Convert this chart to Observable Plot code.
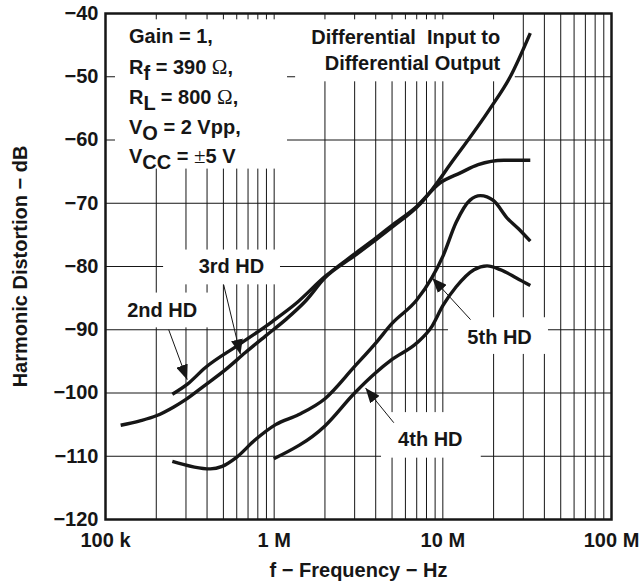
<!DOCTYPE html>
<html>
<head>
<meta charset="utf-8">
<script src="https://cdn.jsdelivr.net/npm/d3@7"></script>
<script src="https://cdn.jsdelivr.net/npm/@observablehq/plot@0.6"></script>
<style>
  html, body { margin: 0; padding: 0; background: #fff; }
  svg text { white-space: pre; }
</style>
</head>
<body>
<div id="chart"></div>
<script>
// ---- Data ----
const hd2Freq = [2.49e5, 3.06e5, 3.9e5, 6.15e5, 9.75e5, 1.34e6, 2e6, 3e6, 4e6, 5e6, 7e6, 9.6e6, 1.27e7, 1.62e7, 2.3e7, 3.3e7];
const hd2Db   = [-100.2, -98.6, -96.0, -92.4, -88.7, -85.9, -81.6, -78.0, -75.5, -73.5, -70.5, -66.8, -65.2, -63.9, -63.2, -63.2];

const hd3Freq = [1.23e5, 1.6e5, 2e5, 2.54e5, 3e5, 3.92e5, 5.15e5, 6.75e5, 8.87e5, 1.17e6, 1.53e6, 2e6, 3e6, 4e6, 5e6, 7.4e6, 1.16e7, 1.91e7, 2.51e7, 3.3e7];
const hd3Db   = [-105.1, -104.4, -103.6, -102.2, -101.0, -98.7, -96.3, -93.6, -91.0, -88.4, -85.5, -81.8, -78.3, -75.8, -73.8, -70.0, -63.1, -55.0, -50.0, -43.1];

const hd4Freq = [9.95e5, 2e6, 3e6, 4e6, 5e6, 7e6, 8.6e6, 1e7, 1.2e7, 1.53e7, 1.83e7, 2.19e7, 2.73e7, 3.3e7];
const hd4Db   = [-110.4, -105.2, -100.0, -96.8, -94.7, -92.1, -89.5, -86.2, -83.2, -80.5, -79.9, -80.5, -81.8, -83.0];

const hd5Freq = [2.49e5, 4.18e5, 4.92e5, 5.9e5, 7.72e5, 1.02e6, 1.4e6, 2e6, 3e6, 4e6, 5e6, 7e6, 8.6e6, 1e7, 1.2e7, 1.45e7, 1.67e7, 2e7, 2.4e7, 2.8e7, 3.3e7];
const hd5Db   = [-110.8, -112.0, -111.6, -110.3, -107.4, -105.0, -103.4, -100.9, -95.8, -92.1, -89.0, -85.3, -81.8, -78.4, -73.0, -69.5, -68.8, -69.6, -72.3, -74.0, -76.0];

const seriesNames = ["2nd HD", "3rd HD", "4th HD", "5th HD"];
const seriesFreq = [hd2Freq, hd3Freq, hd4Freq, hd5Freq];
const seriesDb = [hd2Db, hd3Db, hd4Db, hd5Db];

// Axis ticks
const xTicks = [1e5, 1e6, 1e7, 1e8];
const xTickLabels = ["100 k", "1 M", "10 M", "100 M"];
const yTicks = [-120, -110, -100, -90, -80, -70, -60, -50, -40];

// Series labels with arrows (label position, arrow tail, arrow tip)
const hdLabels = ["2nd HD", "3rd HD", "4th HD", "5th HD"];
const hdLabelX = [2.17e5, 5.58e5, 8.43e6, 2.17e7];
const hdLabelY = [-87.0, -80.0, -107.4, -91.2];
const arrowTailX = [2.37e5, 5.02e5, 5.12e6, 1.46e7];
const arrowTailY = [-90.0, -82.9, -104.7, -88.4];
const arrowTipX = [3.05e5, 6.31e5, 3.48e6, 8.65e6];
const arrowTipY = [-97.9, -93.9, -99.2, -81.8];

// White label boxes [x1, x2, y1, y2]
const boxX1 = [1.146e5, 1.34e6, 2.21e5, 1.146e5, 1.08e7, 4.33e6];
const boxX2 = [1.2e6, 2.69e7, 1.09e6, 4.19e5, 4.23e7, 1.69e7];
const boxY1 = [-41.0, -41.0, -77.4, -84.2, -88.1, -103.1];
const boxY2 = [-64.6, -50.8, -82.9, -89.7, -93.9, -110.3];

// Conditions text (segments: [text, kind])
const paramSegments = [
  [["Gain = 1,"]],
  [["R"], ["f", "sub"], [" = 390 "], ["Ω", "sym"], [","]],
  [["R"], ["L", "sub"], [" = 800 "], ["Ω", "sym"], [","]],
  [["V"], ["O", "sub"], [" = 2 Vpp,"]],
  [["V"], ["CC", "sub"], [" = "], ["±", "sym"], ["5 V"]]
];
const paramX = 1.378e5;
const paramY = [-43.7, -48.5, -53.3, -58.1, -62.7];

const titleLines = ["Differential  Input to", "Differential Output"];
const titleX = 2.19e7;
const titleY = [-43.85, -47.9];

const xTitle = "f − Frequency − Hz";
const yTitle = "Harmonic Distortion − dB";

// ---- Build tables ----
const curveData = seriesNames.flatMap((name, s) =>
  seriesFreq[s].map((f, i) => ({series: name, f, db: seriesDb[s][i]})));
const gridX = [];
for (const dec of [1e5, 1e6, 1e7]) for (let k = 1; k <= 9; k++) { const v = dec * k; if (v > 1e5) gridX.push(v); }
const gridY = yTicks.filter(v => v > -120 && v < -40);
const labelData = hdLabels.map((t, i) => ({t, x: hdLabelX[i], y: hdLabelY[i]}));
const arrowData = hdLabels.map((t, i) => ({x1: arrowTailX[i], y1: arrowTailY[i], x2: arrowTipX[i], y2: arrowTipY[i]}));
const boxData = boxX1.map((x1, i) => ({x1, x2: boxX2[i], y1: boxY1[i], y2: boxY2[i]}));
const paramData = paramSegments.map((segs, i) => ({segs, x: paramX, y: paramY[i], t: segs.map(s => s[0]).join("")}));
const titleData = titleLines.map((t, i) => ({t, x: titleX, y: titleY[i]}));

const ink = "#161616";
const minus = v => (v < 0 ? "−" + Math.abs(v) : String(v));

const chart = Plot.plot({
  width: 639,
  height: 585,
  marginLeft: 105,
  marginRight: 28,
  marginTop: 13,
  marginBottom: 66,
  style: {fontFamily: "'Liberation Sans', Arial, Helvetica, sans-serif", fontSize: "20px", fontWeight: "bold", color: ink, background: "#fff"},
  x: {type: "log", domain: [1e5, 1e8]},
  y: {domain: [-120, -40]},
  marks: [
    Plot.ruleX(gridX, {stroke: ink, strokeWidth: 1}),
    Plot.ruleY(gridY, {stroke: ink, strokeWidth: 1}),
    Plot.rect(boxData, {x1: "x1", x2: "x2", y1: "y1", y2: "y2", fill: "white"}),
    Plot.line(curveData, {x: "f", y: "db", z: "series", stroke: ink, strokeWidth: 3.4, curve: "monotone-x", strokeLinecap: "butt"}),
    Plot.link(arrowData, {x1: "x1", y1: "y1", x2: "x2", y2: "y2", stroke: ink, strokeWidth: 1, className: "hd-arrow"}),
    Plot.text(labelData, {x: "x", y: "y", text: "t", fill: ink}),
    Plot.text(paramData, {x: "x", y: "y", text: "t", textAnchor: "start", fill: ink, className: "params"}),
    Plot.text(titleData, {x: "x", y: "y", text: "t", textAnchor: "end", fill: ink}),
    Plot.frame({stroke: ink, strokeWidth: 2.5}),
    Plot.axisX(xTicks, {tickSize: 0, tickPadding: 13, tickFormat: (d) => xTickLabels[xTicks.indexOf(d)], label: null, fill: ink}),
    Plot.axisY(yTicks, {tickSize: 0, tickPadding: 7, tickFormat: minus, label: null, fill: ink}),
    Plot.text([xTitle], {frameAnchor: "bottom", textAnchor: "middle", lineAnchor: "middle", dy: 51, fill: ink}),
    Plot.text([yTitle], {frameAnchor: "left", textAnchor: "middle", lineAnchor: "middle", rotate: -90, dx: -85, fill: ink})
  ]
});

document.getElementById("chart").appendChild(chart);

// ---- Post-processing: subscripts/symbols and filled arrowheads ----
const svg = d3.select(chart.tagName.toLowerCase() === "svg" ? chart : chart.querySelector("svg"));
svg.selectAll("g.params text").each(function(_, i) {
  const el = d3.select(this);
  const row = paramData[i];
  if (!row) return;
  el.text(null);
  let shifted = false;
  for (const [txt, kind] of row.segs) {
    const ts = el.append("tspan").text(txt);
    if (kind === "sub") { ts.attr("dy", 6); shifted = true; }
    else if (shifted) { ts.attr("dy", -6); shifted = false; }
    if (kind === "sym") ts.attr("font-family", "'Liberation Serif', 'DejaVu Serif', serif").attr("font-weight", "normal").attr("font-size", "21px");
  }
});
let defs = svg.select("defs");
if (defs.empty()) defs = svg.insert("defs", ":first-child");
defs.append("marker")
  .attr("id", "hd-head")
  .attr("viewBox", "0 0 10 10")
  .attr("refX", 10).attr("refY", 5)
  .attr("markerWidth", 15).attr("markerHeight", 12)
  .attr("markerUnits", "userSpaceOnUse")
  .attr("preserveAspectRatio", "none")
  .attr("orient", "auto")
  .append("path").attr("d", "M0,0L10,5L0,10Z").attr("fill", ink);
svg.selectAll("g.hd-arrow path").attr("marker-end", "url(#hd-head)");
</script>
</body>
</html>
